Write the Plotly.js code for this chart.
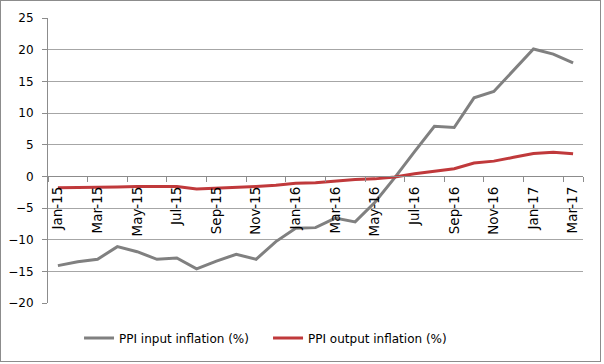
<!DOCTYPE html>
<html>
<head>
<meta charset="utf-8">
<script src="https://cdn.plot.ly/plotly-3.0.1.min.js"></script>
<style>
  html, body { margin: 0; padding: 0; background: #ffffff; }
  #frame { position: absolute; left: 0; top: 0; width: 601px; height: 362px; box-sizing: border-box; border: 1px solid #8c8c8c; background: #fff; }
  #chart { position: absolute; left: 0; top: 0; width: 599px; height: 360px; }
</style>
</head>
<body>
<div id="frame"><div id="chart"></div></div>
<script>
const months = ["Jan-15","Feb-15","Mar-15","Apr-15","May-15","Jun-15","Jul-15","Aug-15","Sep-15","Oct-15","Nov-15","Dec-15",
                "Jan-16","Feb-16","Mar-16","Apr-16","May-16","Jun-16","Jul-16","Aug-16","Sep-16","Oct-16","Nov-16","Dec-16",
                "Jan-17","Feb-17","Mar-17"];
const ppiInput = [-14.1, -13.5, -13.1, -11.1, -11.9, -13.1, -12.9, -14.6, -13.4, -12.3, -13.1, -10.3,
                  -8.2, -8.1, -6.6, -7.2, -4.1, -0.2, 3.9, 7.9, 7.7, 12.4, 13.4, 16.7,
                  20.1, 19.3, 17.9];
const ppiOutput = [-1.8, -1.8, -1.8, -1.7, -1.6, -1.6, -1.6, -2.0, -1.9, -1.7, -1.6, -1.4,
                   -1.1, -1.0, -0.7, -0.5, -0.4, -0.1, 0.4, 0.8, 1.2, 2.1, 2.4, 3.0,
                   3.6, 3.8, 3.55];
const labelMonths = months.filter((m, i) => i % 2 === 0);

const yMin = -20, yMax = 25;

const traces = [
  { type: "scatter", mode: "lines", name: "PPI input inflation (%)", x: months, y: ppiInput,
    line: { color: "#808080", width: 3 } },
  { type: "scatter", mode: "lines", name: "PPI output inflation (%)", x: months, y: ppiOutput,
    line: { color: "#c0393b", width: 3 } }
];

const layout = {
  width: 599, height: 360,
  margin: { l: 47, r: 17, t: 17, b: 58, autoexpand: false },
  paper_bgcolor: "#ffffff", plot_bgcolor: "#ffffff",
  font: { family: "DejaVu Sans, Verdana, sans-serif", size: 12, color: "#000" },
  showlegend: true,
  legend: { orientation: "h", x: 0.058, xanchor: "left", y: -0.123, yanchor: "middle",
            font: { size: 12, color: "#000" }, entrywidth: 144, entrywidthmode: "pixels" },
  xaxis: {
    type: "category",
    categoryorder: "array", categoryarray: months,
    range: [-0.5, months.length - 0.5],
    anchor: "free", position: (0 - yMin) / (yMax - yMin),
    tickmode: "array", tickvals: labelMonths, ticktext: labelMonths,
    tickson: "boundaries",
    ticks: "outside", ticklen: 5, tickcolor: "#8c8c8c", tickwidth: 1,
    tickangle: -90, ticklabelstandoff: 4,
    showline: true, linecolor: "#8c8c8c", linewidth: 1,
    showgrid: false, zeroline: false, automargin: false,
    tickfont: { size: 13.5, color: "#000" }
  },
  yaxis: {
    range: [yMin, yMax], dtick: 5, tick0: 0,
    ticks: "outside", ticklen: 5, tickcolor: "#8c8c8c",
    ticklabelstandoff: 6,
    showline: true, linecolor: "#8c8c8c", linewidth: 1,
    showgrid: true, gridcolor: "#a6a6a6", gridwidth: 1,
    zeroline: false, automargin: false,
    tickfont: { size: 12, color: "#000" }
  }
};

Plotly.newPlot("chart", traces, layout, { displayModeBar: false, staticPlot: true });
</script>
</body>
</html>
